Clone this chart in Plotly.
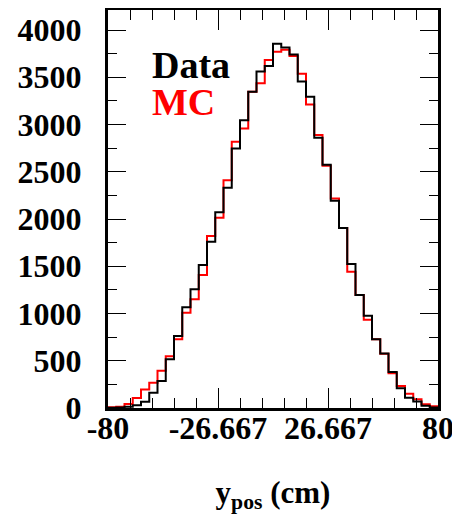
import numpy as np
import plotly.graph_objects as go

# y_pos histogram, 40 bins of 4 cm from -80 to 80
bin_edges = np.linspace(-80, 80, 41)

data_counts = [3, 5, 14, 28, 67, 162, 286, 515, 762, 1065,
               1256, 1513, 1760, 2072, 2330, 2747, 3045, 3347, 3560, 3619,
               3855, 3815, 3742, 3455, 3294, 2860, 2575, 2192, 1905, 1524,
               1196, 975, 727, 578, 380, 208, 108, 70, 25, 5]

mc_counts = [7, 14, 42, 105, 197, 268, 395, 548, 727, 1009,
             1150, 1407, 1820, 2014, 2410, 2818, 2958, 3347, 3436, 3683,
             3770, 3792, 3725, 3537, 3212, 2890, 2565, 2217, 1905, 1441,
             1196, 935, 727, 575, 367, 233, 150, 92, 40, 18]

x_tickvals = [-80, -26.667, 26.667, 80]
x_ticktext = ["-80", "-26.667", "26.667", "80"]

font_family = "Liberation Serif, Times New Roman, serif"


def step_xy(counts):
    # repeat last value so the final bin gets its full width with 'hv'
    return list(bin_edges), list(counts) + [counts[-1]]


fig = go.Figure()

x, y = step_xy(mc_counts)
fig.add_trace(go.Scatter(x=x, y=y, mode="lines", line_shape="hv",
                         line=dict(color="#ff0000", width=2), name="MC"))
x, y = step_xy(data_counts)
fig.add_trace(go.Scatter(x=x, y=y, mode="lines", line_shape="hv",
                         line=dict(color="black", width=2), name="Data"))

fig.add_annotation(x=0.127, y=0.862, xref="paper", yref="paper",
                   xanchor="left", yanchor="middle", showarrow=False,
                   text="Data", font=dict(family=font_family, size=38,
                                          color="black", weight="bold"))
fig.add_annotation(x=0.127, y=0.768, xref="paper", yref="paper",
                   xanchor="left", yanchor="middle", showarrow=False,
                   text="MC", font=dict(family=font_family, size=38,
                                        color="#ff0000", weight="bold"))

fig.update_xaxes(
    range=[-80, 80], showgrid=False, zeroline=False,
    showline=True, linewidth=3, linecolor="black", mirror="ticks",
    tickmode="array", tickvals=x_tickvals, ticktext=x_ticktext,
    ticks="inside", ticklen=20, tickwidth=1, tickcolor="black",
    minor=dict(tick0=-80, dtick=160 / 15, ticks="inside", ticklen=10,
               tickwidth=1, tickcolor="black", showgrid=False),
    tickfont=dict(family=font_family, size=32, color="black", weight="bold"),
    ticklabelstandoff=-10,
    title=dict(text="y<sub>pos</sub> (cm)", standoff=36,
               font=dict(family=font_family, size=31, color="black",
                         weight="bold")),
)
fig.update_yaxes(
    range=[0, 4212], showgrid=False, zeroline=False,
    showline=True, linewidth=3, linecolor="black", mirror="ticks",
    tick0=0, dtick=500,
    ticks="inside", ticklen=18, tickwidth=1, tickcolor="black",
    minor=dict(tick0=0, dtick=250, ticks="inside", ticklen=9,
               tickwidth=1, tickcolor="black", showgrid=False),
    tickfont=dict(family=font_family, size=32, color="black", weight="bold"),
    ticklabelstandoff=17,
)

# the page body adds an 8px offset, so margins are shifted to compensate
fig.update_layout(
    width=460, height=521,
    margin=dict(l=100, r=30, t=2, b=121, autoexpand=False),
    paper_bgcolor="white", plot_bgcolor="white",
    showlegend=False,
)

fig.write_html("out.html")
